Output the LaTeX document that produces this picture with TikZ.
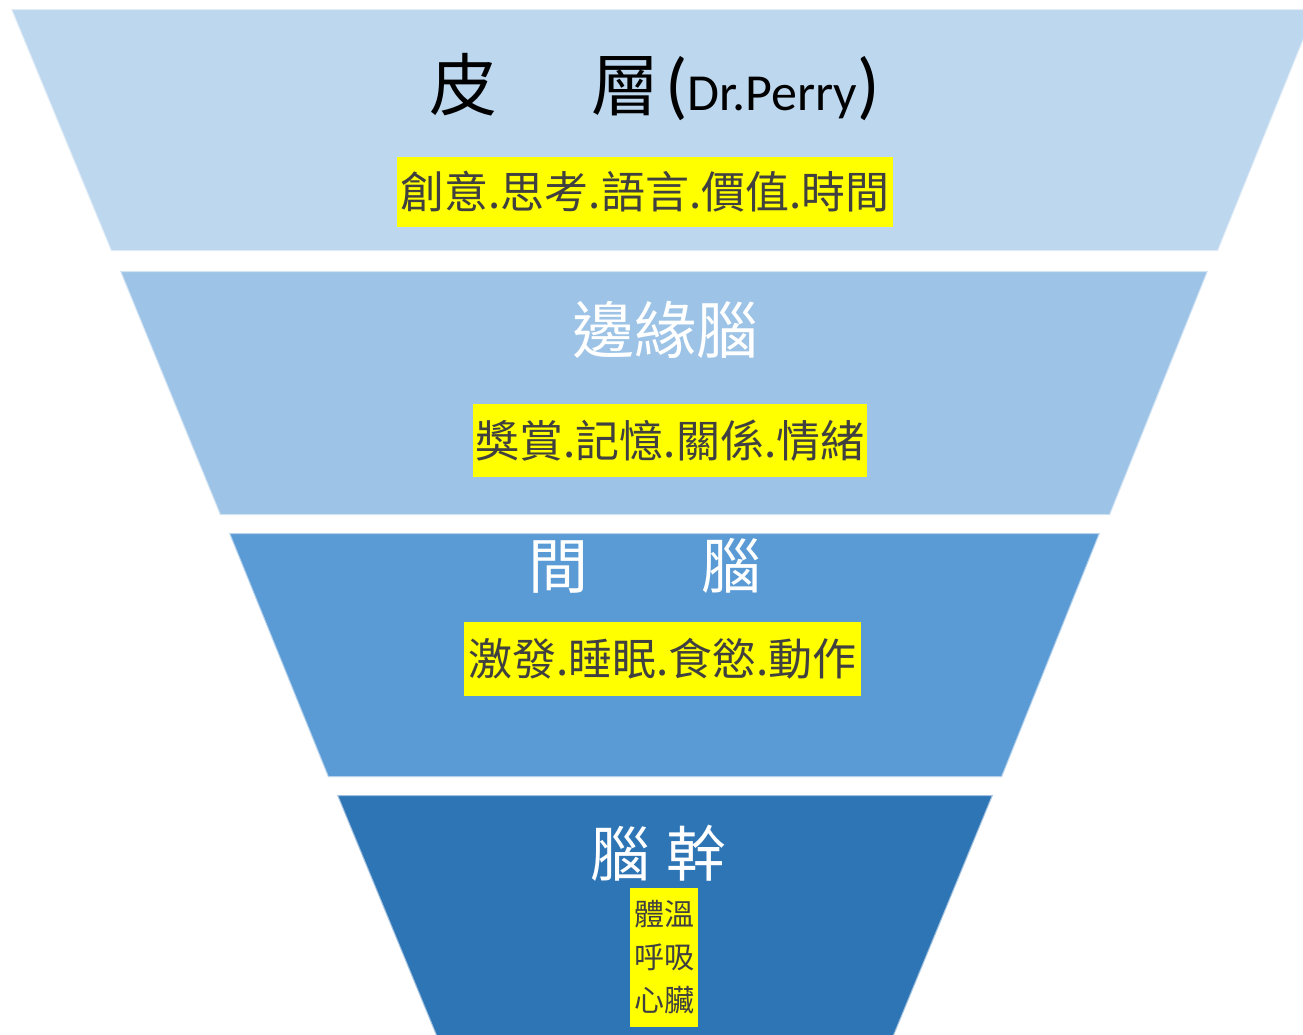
\documentclass[tikz,border=0pt]{standalone}
\usepackage{fontspec}
\newfontfamily\cjk{Noto Sans CJK TC}
\newfontfamily\carlito{Carlito}
\definecolor{layA}{HTML}{BDD7EE}
\definecolor{layB}{HTML}{9DC3E6}
\definecolor{layC}{HTML}{5B9BD5}
\definecolor{layD}{HTML}{2E75B6}
\definecolor{txtdark}{HTML}{404040}
\definecolor{hl}{HTML}{FFFF00}
\tikzset{
  layer/.style={draw=white, draw opacity=0.55, line width=2pt},
  title/.style={text=white, inner sep=0pt, font=\cjk},
  hlbox/.style={fill=hl, inner sep=0pt, text=txtdark, font=\cjk\fontsize{44}{44}\selectfont},
}
\begin{document}
\begin{tikzpicture}[x=1pt,y=-1pt]
\useasboundingbox (0,0) rectangle (1303,1034);
\fill[white] (0,0) rectangle (1303,1034);
\begin{scope}
\clip (0,0) rectangle (1303,1034);
\path[layer, fill=layA] (11,9) -- (1316,9) -- (1218,251) -- (111,251) -- cycle;
\path[layer, fill=layB] (120,271) -- (1208,271) -- (1110,515) -- (220,515) -- cycle;
\path[layer, fill=layC] (229,533) -- (1100,533) -- (1002,777) -- (328,777) -- cycle;
\path[layer, fill=layD] (337,795) -- (993,795) -- (890,1045) -- (440,1045) -- cycle;
\end{scope}

% layer 1
\node[inner sep=0pt, anchor=base west, text=black] (t1) at (429,110)
  {{\cjk\fontsize{68}{68}\selectfont 皮\hspace{94pt}層}\hspace{6pt}{\carlito\fontsize{74}{74}\selectfont(}{\carlito\fontsize{52}{52}\selectfont Dr.Perry}{\carlito\fontsize{74}{74}\selectfont)}};
\node[hlbox, minimum width=496pt, minimum height=70pt] (b1) at (645,192) {創意.思考.語言.價值.時間};

% layer 2
\node[title, font=\cjk\fontsize{62}{62}\selectfont] (t2) at (665,330) {邊緣腦};
\node[hlbox, minimum width=394pt, minimum height=73pt] (b2) at (670,440.5) {獎賞.記憶.關係.情緒};

% layer 3
\node[title, font=\cjk\fontsize{60}{60}\selectfont] (t3) at (645,566) {間\hspace{113pt}腦};
\node[hlbox, minimum width=397pt, minimum height=74pt] (b3) at (662.5,659) {激發.睡眠.食慾.動作};

% layer 4
\node[title, font=\cjk\fontsize{60}{60}\selectfont] (t4) at (658.5,853) {腦\hspace{16pt}幹};
\node[hlbox, minimum width=68pt, minimum height=139pt, align=center, font=\cjk\fontsize{30}{43}\selectfont] (b4) at (664,957.5) {體溫\\呼吸\\心臟};
\end{tikzpicture}
\end{document}
